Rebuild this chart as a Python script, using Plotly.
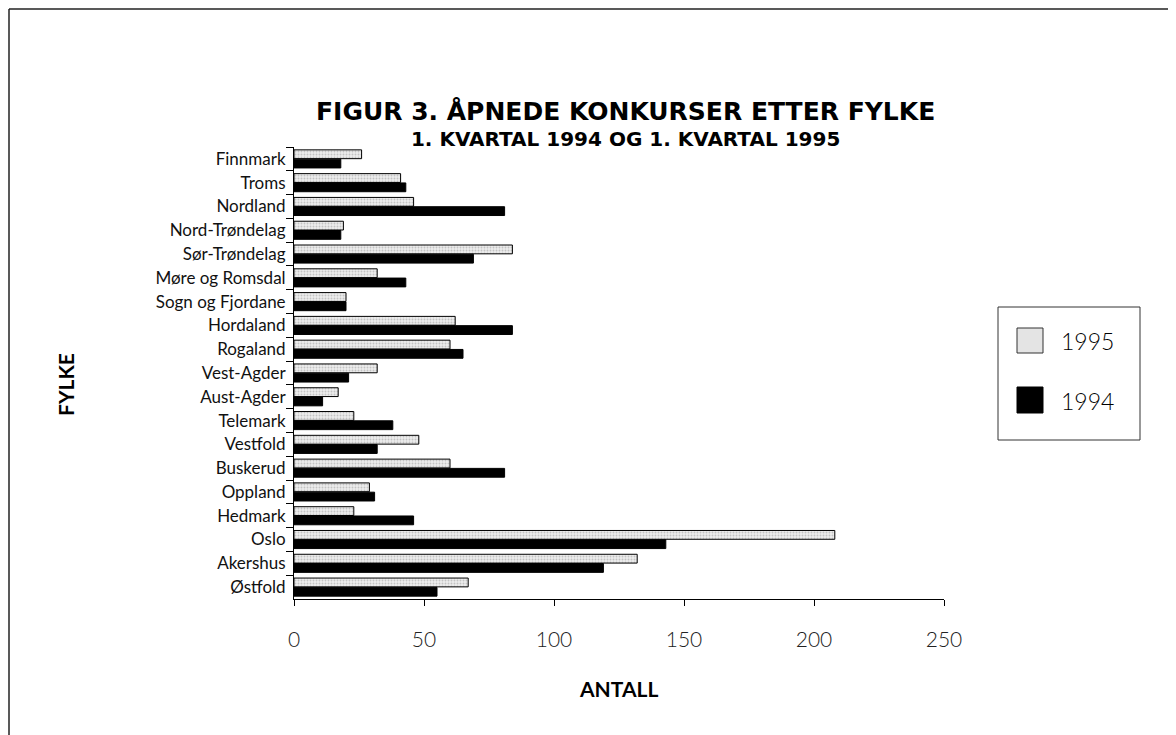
import plotly.graph_objects as go

fylker = ["Finnmark", "Troms", "Nordland", "Nord-Trøndelag", "Sør-Trøndelag",
          "Møre og Romsdal", "Sogn og Fjordane", "Hordaland", "Rogaland",
          "Vest-Agder", "Aust-Agder", "Telemark", "Vestfold", "Buskerud",
          "Oppland", "Hedmark", "Oslo", "Akershus", "Østfold"]
verdier_1995 = [26, 41, 46, 19, 84, 32, 20, 62, 60, 32, 17, 23, 48, 60, 29, 23, 208, 132, 67]
verdier_1994 = [18, 43, 81, 18, 69, 43, 20, 84, 65, 21, 11, 38, 32, 81, 31, 46, 143, 119, 55]
x_ticks = [0, 50, 100, 150, 200, 250]

# page body has an 8px margin; figure is sized to end at the window edge
OFF = 8
W, H = 1176 - OFF, 735 - OFF
# plot area in screen pixels
SL, SR, ST, SB = 294, 944, 147, 599
L, T = SL - OFF, ST - OFF
R, B = (W + OFF) - SR, (H + OFF) - SB
PW, PH = SR - SL, SB - ST

def px(x):
    return (x - SL) / PW

def py(y):
    return (SB - y) / PH

FONT = "Lato"
LIGHT = "Lato Light, Lato"
TITLEFONT = "DejaVu Sans"

fig = go.Figure()
fig.add_trace(go.Bar(
    y=fylker, x=verdier_1995, orientation="h", name="1995",
    marker=dict(color="#e4e4e4", line=dict(color="black", width=1),
                pattern=dict(shape=".", fgcolor="#9a9a9a", bgcolor="#ececec", size=3, solidity=0.3)),
    showlegend=False))
fig.add_trace(go.Bar(
    y=fylker, x=verdier_1994, orientation="h", name="1994",
    marker=dict(color="black", line=dict(color="black", width=1)),
    showlegend=False))

fig.update_layout(
    width=W, height=H,
    margin=dict(l=L, r=R, t=T, b=B, autoexpand=False),
    paper_bgcolor="white", plot_bgcolor="white",
    barmode="group", bargap=0.22, bargroupgap=0.05,
    font=dict(family=FONT, color="black"),
    xaxis=dict(range=[0, 250], tickvals=x_ticks, showgrid=False, zeroline=False,
               showline=True, linecolor="black", linewidth=1,
               ticks="outside", ticklen=6, tickcolor="black",
               tickfont=dict(size=21, family=LIGHT, color="#222"),
               ticklabelstandoff=16),
    yaxis=dict(type="category", autorange="reversed", showgrid=False,
               showline=True, linecolor="black", linewidth=1,
               ticks="outside", ticklen=7, tickcolor="black", tickson="boundaries",
               tickfont=dict(size=17, family=FONT, color="#111"),
               ticklabelstandoff=4),
)

ann = [
    dict(text="<b><span style='font-size:25px'>FIGUR 3. ÅPNEDE KONKURSER ETTER FYLKE</span></b><br>"
              "<b>1. KVARTAL 1994 OG 1. KVARTAL 1995</b>",
         x=px(625), y=py(124), font=dict(size=20, family=TITLEFONT)),
    dict(text="<b>ANTALL</b>", x=px(618), y=py(688), font=dict(size=21)),
    dict(text="<b>FYLKE</b>", x=px(65), y=py(385), font=dict(size=21), textangle=-90),
    dict(text="1995", x=px(1059), y=py(341), xanchor="left", font=dict(size=23, family=LIGHT)),
    dict(text="1994", x=px(1059), y=py(401), xanchor="left", font=dict(size=23, family=LIGHT)),
]
for a in ann:
    a.setdefault("xanchor", "center")
    fig.add_annotation(xref="paper", yref="paper", yanchor="middle", showarrow=False, **a)

shapes = [
    # legend box
    dict(type="rect", x0=px(998), x1=px(1140), y0=py(440), y1=py(307),
         line=dict(color="#333", width=1), fillcolor="white"),
    dict(type="rect", x0=px(1017), x1=px(1043), y0=py(353), y1=py(328),
         line=dict(color="#333", width=1), fillcolor="#e4e4e4"),
    dict(type="rect", x0=px(1017), x1=px(1043), y0=py(413), y1=py(387),
         line=dict(color="black", width=1), fillcolor="black"),
    # page frame (top and left)
    dict(type="line", x0=px(9), x1=px(1172), y0=py(9), y1=py(9), line=dict(color="#222", width=1.5)),
    dict(type="line", x0=px(9), x1=px(9), y0=py(9), y1=py(735), line=dict(color="#222", width=1.5)),
]
for s in shapes:
    fig.add_shape(xref="paper", yref="paper", layer="above", **s)

fig.write_html("out.html")
